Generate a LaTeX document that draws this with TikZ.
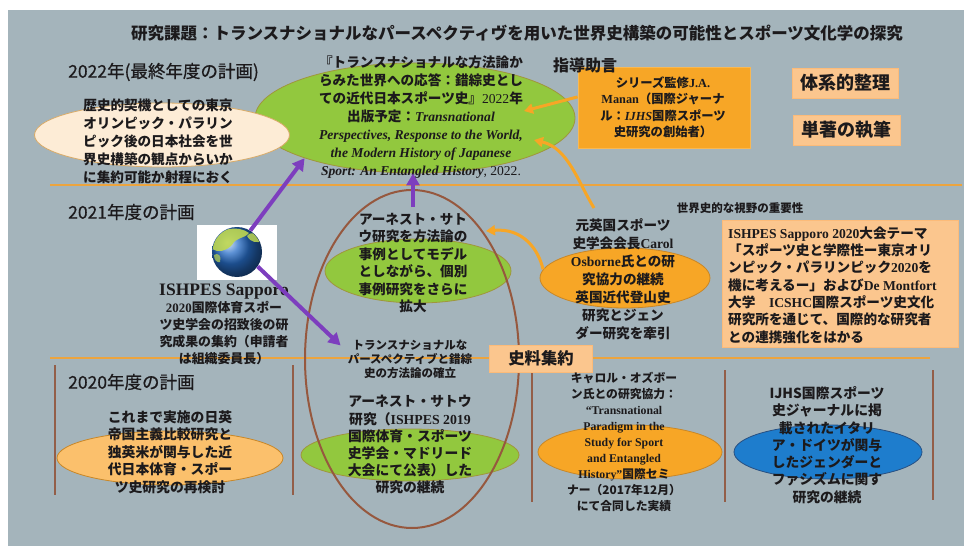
\documentclass[tikz,border=0pt]{standalone}
\usepackage{fontspec}
\setmainfont{Liberation Serif}
\newfontfamily\jp{Noto Sans CJK JP}
\newfontfamily\jpmed{Noto Sans CJK JP}[FakeBold=0.7]
\usetikzlibrary{shapes.geometric,arrows.meta,calc}

\definecolor{bg}{RGB}{164,180,187}
\definecolor{ink}{RGB}{28,26,28}
\definecolor{cream}{RGB}{253,236,214}
\definecolor{leaf}{RGB}{146,200,62}
\definecolor{leafline}{RGB}{160,150,60}
\definecolor{orng}{RGB}{247,166,38}
\definecolor{orngline}{RGB}{200,135,40}
\definecolor{lightorng}{RGB}{251,192,108}
\definecolor{peach}{RGB}{251,198,142}
\definecolor{sky}{RGB}{30,125,205}
\definecolor{skyline}{RGB}{40,80,130}
\definecolor{violet}{RGB}{125,62,190}
\definecolor{rust}{RGB}{150,88,62}
\definecolor{rule}{RGB}{236,164,62}
\definecolor{land}{RGB}{190,215,80}
\definecolor{ocean}{RGB}{40,110,200}

\newcommand\en[1]{{\rmfamily\bfseries #1}}
\newcommand\eni[1]{{\rmfamily\bfseries\itshape #1}}
\newcommand\enr[1]{{\rmfamily\mdseries #1}}

\tikzset{
  jt/.style={font=\jp\bfseries\fontsize{13.6}{18}\selectfont, align=center, inner sep=0pt, text=ink},
  yr/.style={font=\jpmed\fontsize{17.5}{20}\selectfont, anchor=west, inner sep=0pt, text=ink},
  blob/.style={ellipse, inner sep=0pt, line width=0.8pt},
  pbox/.style={rectangle, fill=peach, draw=peach!85!orange, line width=0.6pt, inner sep=0pt},
  parrow/.style={draw=violet, line width=4pt, -{Triangle[length=12pt,width=13pt]}},
  oarrow/.style={draw=orng, line width=3pt, -{Triangle[length=9pt,width=10pt]}},
  divider/.style={draw=rule, line width=2.5pt},
  vrule/.style={draw=rust!85!gray, line width=2pt},
}

\begin{document}
\begin{tikzpicture}[x=1pt,y=-1pt]
\useasboundingbox (0,0) rectangle (971,548);
\fill[white] (0,0) rectangle (971,548);
\fill[bg] (8,10) rectangle (964,546);

% title
\node[font=\jp\bfseries\fontsize{16.5}{18}\selectfont, text=ink, inner sep=0pt] (title) at (517,33)
  {研究課題：トランスナショナルなパースペクティヴを用いた世界史構築の可能性とスポーツ文化学の探究};

% year dividers
\draw[divider] (50,185) -- (962,185);
\draw[divider] (50,358) -- (930,358);

% column rules of the 2020 row
\foreach \xx/\ya/\yb in {55/365/495, 293/365/495, 532/372/502, 725/370/502, 933/370/500}
  \draw[vrule] (\xx,\ya) -- (\xx,\yb);

% ellipses
\node[blob, fill=leaf, draw=leafline, minimum width=320pt, minimum height=110pt] (eTop) at (415,118) {};
\node[blob, fill=cream, draw=orngline!70!white, minimum width=255pt, minimum height=64pt] (eCream) at (162,135) {};
\node[blob, fill=leaf, draw=leafline, minimum width=186pt, minimum height=64pt] (eMid) at (418,271) {};
\node[blob, fill=orng, draw=orngline, minimum width=170pt, minimum height=60pt] (eCarol) at (625,278) {};
\node[blob, fill=lightorng, draw=orngline, minimum width=226pt, minimum height=54pt] (eOld) at (170,458) {};
\node[blob, fill=leaf, draw=leafline, minimum width=218pt, minimum height=52pt] (eSato) at (410,455) {};
\node[blob, fill=orng, draw=orngline, minimum width=184pt, minimum height=54pt] (eSem) at (630,452) {};
\node[blob, fill=sky, draw=skyline, minimum width=188pt, minimum height=54pt] (eBlue) at (828,452) {};

% the 2021-2020 frame
\draw[rust, line width=2pt] (412,359) ellipse (107 and 169);

% boxes
\node[rectangle, fill=orng, draw=orng!80!white, line width=0.8pt, minimum width=172pt, minimum height=81pt, inner sep=0pt] (manan) at (664,107.5) {};
\node[pbox, minimum width=106pt, minimum height=30pt] (sys) at (845,83) {};
\node[pbox, minimum width=107pt, minimum height=30pt] (mono) at (846.5,130) {};
\node[pbox, minimum width=236pt, minimum height=127pt] (ishbox) at (840,283.5) {};
\node[pbox, minimum width=103pt, minimum height=27pt] (src) at (541,358.5) {};

% globe
\node[fill=white, minimum width=80pt, minimum height=55pt, inner sep=0pt] (gframe) at (237,252.5) {};
\shade[ball color=ocean] (237,252) circle (25);
\begin{scope}
  \clip (237,252) circle (24.5);
  \fill[land, opacity=.9] (212,240) .. controls (220,228) and (238,225) .. (249,233)
     .. controls (244,239) and (236,237) .. (232,245) .. controls (226,251) and (218,253) .. (212,249) -- cycle;
  \fill[land, opacity=.85] (247,236) .. controls (252,230) and (259,234) .. (263,241)
     .. controls (257,243) and (251,243) .. (247,236) -- cycle;
  \fill[land, opacity=.7] (214,255) .. controls (218,252) and (222,256) .. (220,262)
     .. controls (217,263) and (214,260) .. (214,255) -- cycle;
\end{scope}
\node[circle, minimum size=50pt, inner sep=0pt] (globe) at (237,252) {};

% texts
\node[jt] (tCream) at (158,141) {歴史的契機としての東京\\オリンピック・パラリン\\ピック後の日本社会を世\\界史構築の観点からいか\\に集約可能か射程におく};

\node[jt] (tTop) at (421,117) {『トランスナショナルな方法論か\\らみた世界への応答：錯綜史とし\\ての近代日本スポーツ史』\enr{2022}年\\出版予定：\eni{Transnational}\\\eni{Perspectives, Response to the World,}\\\eni{the Modern History of Japanese}\\\eni{Sport: An Entangled History}\enr{, 2022.}};

\node[jt, font=\jp\bfseries\fontsize{13.6}{17.4}\selectfont] (tMid) at (413,263) {アーネスト・サト\\ウ研究を方法論の\\事例としてモデル\\としながら、個別\\事例研究をさらに\\拡大};

\node[jt] (tCarol) at (623,279) {元英国スポーツ\\史学会会長\en{Carol}\\\en{Osborne}氏との研\\究協力の継続\\英国近代登山史\\研究とジェン\\ダー研究を牽引};

\node[jt, font=\jp\bfseries\fontsize{12.9}{17}\selectfont] (tIsh) at (224,324) {{\rmfamily\bfseries\fontsize{17.5}{17}\selectfont ISHPES Sapporo}\\\en{2020}国際体育スポー\\ツ史学会の招致後の研\\究成果の集約（申請者\\は組織委員長）};

\node[jt, font=\jp\bfseries\fontsize{11.5}{14}\selectfont] (tTrans) at (410,359) {トランスナショナルな\\パースペクティブと錯綜\\史の方法論の確立};

\node[jt, font=\jp\bfseries\fontsize{13.8}{17.2}\selectfont] (tSato) at (410,445) {アーネスト・サトウ\\研究（\en{ISHPES 2019}\\国際体育・スポーツ\\史学会・マドリード\\大会にて公表）した\\研究の継続};

\node[jt, font=\jp\bfseries\fontsize{13.8}{17.5}\selectfont] (tOld) at (170,452) {これまで実施の日英\\帝国主義比較研究と\\独英米が関与した近\\代日本体育・スポー\\ツ史研究の再検討};

\node[jt, font=\jp\bfseries\fontsize{11.8}{16}\selectfont] (tSem) at (624,442) {キャロル・オズボー\\ン氏との研究協力：\\\en{“Transnational}\\\en{Paradigm in the}\\\en{Study for Sport}\\\en{and Entangled}\\\en{History”}国際セミ\\ナー（2017年12月）\\にて合同した実績};

\node[jt, font=\jp\bfseries\fontsize{13.8}{17.3}\selectfont] (tBlue) at (827,445) {IJHS国際スポーツ\\史ジャーナルに掲\\載されたイタリ\\ア・ドイツが関与\\したジェンダーと\\ファシズムに関す\\研究の継続};

\node[jt, font=\jp\bfseries\fontsize{13.6}{17.3}\selectfont, align=left, anchor=west] (tIshBox) at (728,285) {\en{ISHPES Sapporo 2020}大会テーマ\\「スポーツ史と学際性ー東京オリ\\ンピック・パラリンピック\en{2020}を\\機に考えるー」および\en{De Montfort}\\大学\quad\en{ICSHC}国際スポーツ史文化\\研究所を通じて、国際的な研究者\\との連携強化をはかる};

\node[jt, font=\jp\bfseries\fontsize{12.3}{16.5}\selectfont] (tManan) at (663,107) {シリーズ監修\en{J.A.}\\\en{Manan}（国際ジャーナ\\ル：\eni{IJHS}国際スポーツ\\史研究の創始者）};

\node[jt, font=\jp\bfseries\fontsize{18}{20}\selectfont] (tSys) at (sys) {体系的整理};
\node[jt, font=\jp\bfseries\fontsize{18}{20}\selectfont] (tMono) at (mono) {単著の執筆};
\node[jt, font=\jp\bfseries\fontsize{16.3}{18}\selectfont] (tSrc) at (src) {史料集約};
\node[jt, font=\jp\bfseries\fontsize{16}{18}\selectfont] (tAdv) at (585,65) {指導助言};
\node[jt, font=\jp\bfseries\fontsize{11.5}{14}\selectfont] (tWorld) at (740,208) {世界史的な視野の重要性};

\node[yr] (y22) at (68,72) {2022年(最終年度の計画)};
\node[yr] (y21) at (68,212) {2021年度の計画};
\node[yr] (y20) at (68,382) {2020年度の計画};

% connectors
\coordinate (oa1) at (524,111);
\coordinate (oc2) at (594,208);
\coordinate (oa2) at (534,140);
\coordinate (oa3) at (486,231);

\draw[parrow] (globe.58) -- (eTop.200);
\draw[parrow] (globe.-35) -- ([shift={(-7pt,-6pt)}]tTrans.north west);
\draw[parrow] ([yshift=6pt]tMid.north) -- (tMid.north |- eTop.south);

\draw[oarrow] (manan.173) -- (oa1);
\draw[oarrow] (oc2) .. controls (578,182) and (568,148) .. (oa2);
\draw[oarrow] (eCarol.174) .. controls (538,248) and (522,228) .. (oa3);
\end{tikzpicture}
\end{document}
